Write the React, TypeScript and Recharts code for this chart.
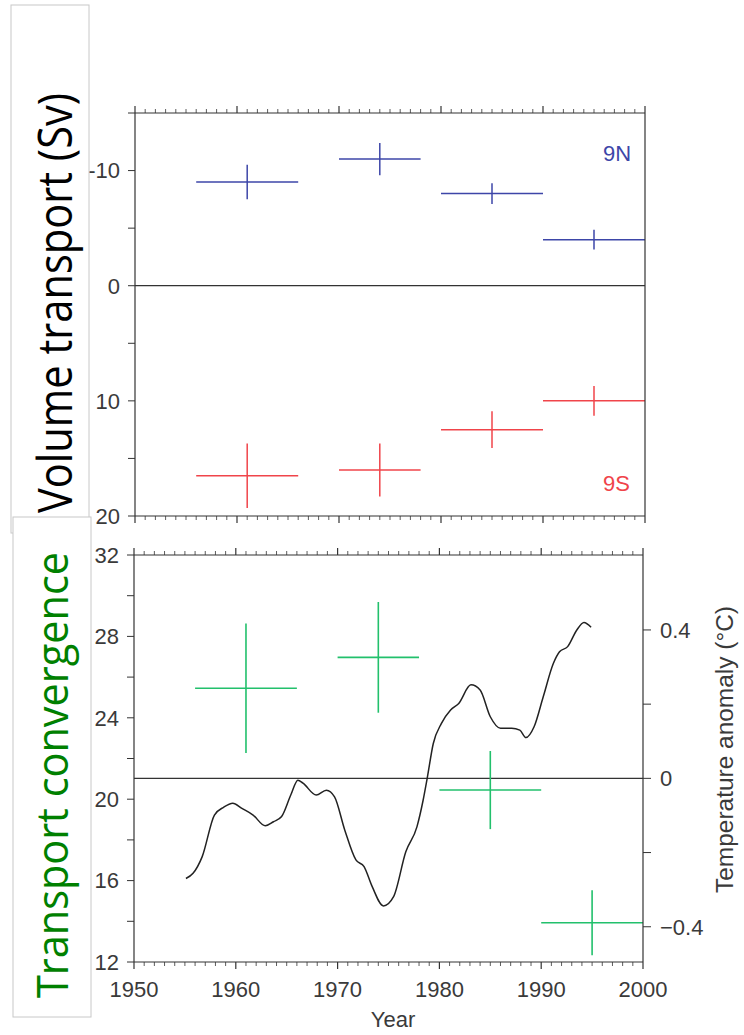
import React from 'react';
import { ComposedChart, XAxis, YAxis, Scatter, ErrorBar, Line, ReferenceLine } from 'recharts';

const AXIS = '#333';
const LABEL = '#3a3a3a';
const BLUE = '#3d46a8';
const RED = '#f0444a';
const GREEN = '#22c06c';

// survey periods (centre year and half-width in years)
const periodMid = [1961, 1974, 1985, 1995];
const periodHalf = [5, 4, 5, 5];

// volume transport (Sv), 9N plotted with inverted sign
const north9 = [-9, -11, -8, -4];
const north9Err = [1.5, 1.4, 0.9, 0.85];
const south9 = [16.5, 16, 12.5, 10];
const south9Err = [2.8, 2.3, 1.6, 1.3];

// transport convergence (Sv)
const convergence = [25.45, 26.97, 20.45, 13.93];
const convergenceErr = [3.18, 2.72, 1.92, 1.6];

// smoothed temperature anomaly (°C)
const tempYears = [
  1955.1, 1955.8, 1956.7, 1957.9, 1958.8, 1959.7, 1960.6, 1961.7, 1962.9, 1963.7,
  1964.5, 1965.4, 1966.1, 1966.6, 1967.9, 1968.9, 1969.7, 1970.7, 1971.8, 1972.6,
  1973.4, 1974.5, 1975.5, 1976.7, 1977.8, 1978.4, 1978.8, 1979.4, 1980.2, 1981.1,
  1981.9, 1983.1, 1984.0, 1985.0, 1986.0, 1987.1, 1987.9, 1988.5, 1989.3, 1990.2,
  1991.2, 1991.8, 1992.6, 1993.5, 1994.2, 1994.9,
];
const tempAnomaly = [
  -0.27, -0.256, -0.211, -0.099, -0.078, -0.067, -0.081, -0.099, -0.128, -0.117,
  -0.103, -0.045, -0.005, -0.013, -0.045, -0.032, -0.05, -0.139, -0.22, -0.238,
  -0.292, -0.344, -0.319, -0.198, -0.13, -0.059, 0.0, 0.094, 0.148, 0.184,
  0.202, 0.252, 0.238, 0.166, 0.135, 0.135, 0.13, 0.11, 0.139, 0.22,
  0.31, 0.341, 0.355, 0.4, 0.42, 0.407,
];

// ticks
const yearTicks = Array.from({ length: 51 }, (_, i) => 1950 + i);
const transportTicks = [-15, -10, -5, 0, 5, 10, 15, 20];
const convergenceTicks = [12, 14, 16, 18, 20, 22, 24, 26, 28, 30, 32];
const tempTicks = [-0.4, -0.2, 0, 0.2, 0.4];

const crosses = (vals: number[], errs: number[]) =>
  periodMid.map((year, i) => ({ year, v: vals[i], yerr: errs[i], xerr: periodHalf[i] }));

const northData = crosses(north9, north9Err);
const southData = crosses(south9, south9Err);
const convData = crosses(convergence, convergenceErr);
const tempData = tempYears.map((year, i) => ({ year, t: tempAnomaly[i] }));

const tickFont = { fontSize: 22, fill: LABEL, fontFamily: 'Liberation Sans, Arial, sans-serif' };

const YearTick = (props: any) => {
  const { x, y, payload, side, showLabel } = props;
  const major = payload.value % 10 === 0;
  const len = major ? 7 : 4;
  const dir = side === 'top' ? -1 : 1;
  return (
    <g>
      <line x1={x} x2={x} y1={y} y2={y + dir * len} stroke={AXIS} strokeWidth={major ? 1.2 : 0.8} />
      {showLabel && major && (
        <text x={x} y={y + 35} textAnchor="middle" {...tickFont}>
          {payload.value}
        </text>
      )}
    </g>
  );
};

const noDot = () => <g />;

const Cross = ({ data, color }: { data: any[]; color: string }) => null;

export default function App() {
  return (
    <div style={{ position: 'absolute', left: 0, top: 0, width: 744, height: 1035, background: '#fff' }}>
      {/* upper panel: volume transport */}
      <div style={{ position: 'absolute', left: 0, top: 0 }}>
        <ComposedChart width={744} height={540} margin={{ top: 103, right: 89, bottom: 14, left: 0 }}>
          <XAxis xAxisId="top" orientation="top" type="number" dataKey="year" domain={[1950, 2000]}
            ticks={yearTicks} interval={0} height={10} tickSize={0} tickMargin={0} tickLine={false}
            axisLine={{ stroke: AXIS, strokeWidth: 1.2 }} allowDataOverflow
            tick={(p: any) => <YearTick {...p} side="top" />} />
          <XAxis xAxisId="bottom" orientation="bottom" type="number" dataKey="year" domain={[1950, 2000]}
            ticks={yearTicks} interval={0} height={10} tickSize={0} tickMargin={0} tickLine={false}
            axisLine={{ stroke: AXIS, strokeWidth: 1.2 }} allowDataOverflow
            tick={(p: any) => <YearTick {...p} side="bottom" />} />
          <YAxis yAxisId="left" orientation="left" type="number" domain={[-15, 20]} reversed
            ticks={transportTicks} interval={0} width={135} tickSize={7} tickMargin={8}
            tickFormatter={(v: number) => (v % 10 === 0 ? String(v) : '')}
            tick={tickFont} axisLine={{ stroke: AXIS, strokeWidth: 1.2 }} tickLine={{ stroke: AXIS }} />
          <YAxis yAxisId="right" orientation="right" type="number" domain={[-15, 20]} reversed
            ticks={transportTicks} interval={0} width={10} tickSize={7} tickFormatter={() => ''}
            axisLine={{ stroke: AXIS, strokeWidth: 1.2 }} tickLine={{ stroke: AXIS }} />
          <ReferenceLine xAxisId="bottom" yAxisId="left" y={0} stroke={AXIS} strokeWidth={1.2} />
          <Scatter xAxisId="bottom" yAxisId="left" data={northData} dataKey="v" shape={noDot} isAnimationActive={false}>
            <ErrorBar dataKey="yerr" direction="y" width={0} stroke={BLUE} strokeWidth={1.5} isAnimationActive={false} />
            <ErrorBar dataKey="xerr" direction="x" width={0} stroke={BLUE} strokeWidth={1.5} isAnimationActive={false} />
          </Scatter>
          <Scatter xAxisId="bottom" yAxisId="left" data={southData} dataKey="v" shape={noDot} isAnimationActive={false}>
            <ErrorBar dataKey="yerr" direction="y" width={0} stroke={RED} strokeWidth={1.5} isAnimationActive={false} />
            <ErrorBar dataKey="xerr" direction="x" width={0} stroke={RED} strokeWidth={1.5} isAnimationActive={false} />
          </Scatter>
        </ComposedChart>
      </div>

      {/* lower panel: transport convergence and temperature */}
      <div style={{ position: 'absolute', left: 0, top: 0 }}>
        <ComposedChart width={744} height={1035} margin={{ top: 545, right: 41, bottom: 33, left: 0 }}>
          <XAxis xAxisId="top" orientation="top" type="number" dataKey="year" domain={[1950, 2000]}
            ticks={yearTicks} interval={0} height={10} tickSize={0} tickMargin={0} tickLine={false}
            axisLine={{ stroke: AXIS, strokeWidth: 1.2 }} allowDataOverflow
            tick={(p: any) => <YearTick {...p} side="top" />} />
          <XAxis xAxisId="bottom" orientation="bottom" type="number" dataKey="year" domain={[1950, 2000]}
            ticks={yearTicks} interval={0} height={40} tickSize={0} tickMargin={0} tickLine={false}
            axisLine={{ stroke: AXIS, strokeWidth: 1.2 }} allowDataOverflow
            tick={(p: any) => <YearTick {...p} side="bottom" showLabel />} />
          <YAxis yAxisId="left" orientation="left" type="number" domain={[12, 32]}
            ticks={convergenceTicks} interval={0} width={134} tickSize={7} tickMargin={8}
            tickFormatter={(v: number) => (v % 4 === 0 ? String(v) : '')}
            tick={tickFont} axisLine={{ stroke: AXIS, strokeWidth: 1.2 }} tickLine={{ stroke: AXIS }} />
          <YAxis yAxisId="temp" orientation="right" type="number" domain={[-0.495, 0.602]}
            ticks={tempTicks} interval={0} width={60} tickSize={8} tickMargin={9}
            tickFormatter={(v: number) => (Math.abs(v) < 1e-9 ? '0' : Math.abs(v) > 0.3 ? (v < 0 ? '\u2212' : '') + Math.abs(v).toFixed(1) : '')}
            tick={tickFont} axisLine={{ stroke: AXIS, strokeWidth: 1.2 }} tickLine={{ stroke: AXIS }} allowDataOverflow />
          <ReferenceLine xAxisId="bottom" yAxisId="temp" y={0} stroke={AXIS} strokeWidth={1.2} />
          <Line xAxisId="bottom" yAxisId="temp" data={tempData} dataKey="t" type="monotone" stroke="#222"
            strokeWidth={1.5} dot={false} activeDot={false} isAnimationActive={false} />
          <Scatter xAxisId="bottom" yAxisId="left" data={convData} dataKey="v" shape={noDot} isAnimationActive={false}>
            <ErrorBar dataKey="yerr" direction="y" width={0} stroke={GREEN} strokeWidth={1.6} isAnimationActive={false} />
            <ErrorBar dataKey="xerr" direction="x" width={0} stroke={GREEN} strokeWidth={1.6} isAnimationActive={false} />
          </Scatter>
        </ComposedChart>
      </div>

      {/* labels and boxes */}
      <svg width={744} height={1035} style={{ position: 'absolute', left: 0, top: 0, pointerEvents: 'none' }}>
        <text x={603} y={161} fontSize={22} fill={BLUE} fontFamily="Liberation Sans, Arial, sans-serif">9N</text>
        <text x={603} y={491} fontSize={22} fill={RED} fontFamily="Liberation Sans, Arial, sans-serif">9S</text>
        <text x={393} y={1027} fontSize={22} fill={LABEL} textAnchor="middle" fontFamily="Liberation Sans, Arial, sans-serif">Year</text>
        <text transform="translate(733,893) rotate(-90)" fontSize={23} fill={LABEL} textLength={287}
          lengthAdjust="spacingAndGlyphs" fontFamily="Liberation Sans, Arial, sans-serif">Temperature anomaly (°C)</text>
        <rect x={11} y={5} width={78} height={528} fill="#fff" stroke="#c8c8c8" />
        <text transform="translate(72,513) rotate(-90)" fontSize={48} fill="#000" textLength={420}
          lengthAdjust="spacingAndGlyphs" fontFamily="Open Sans, sans-serif">Volume transport (Sv)</text>
        <rect x={13} y={517} width={78} height={500} fill="#fff" stroke="#c8c8c8" />
        <text transform="translate(68,998) rotate(-90)" fontSize={43} fill="#008000" textLength={446}
          lengthAdjust="spacingAndGlyphs" fontFamily="Open Sans, sans-serif">Transport convergence</text>
      </svg>
    </div>
  );
}
